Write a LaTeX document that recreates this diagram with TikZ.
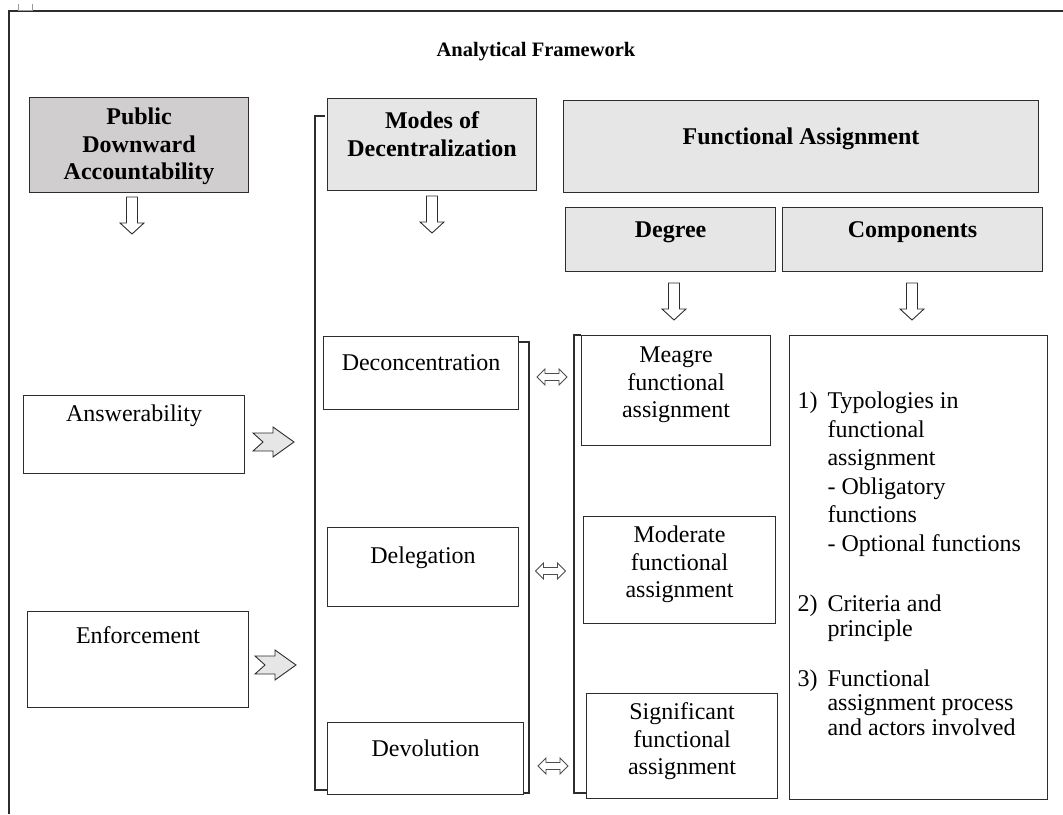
\documentclass[tikz,border=0pt]{standalone}
\usepackage{fontspec}
\setmainfont{Liberation Serif}
\usepackage{tikz}
\usetikzlibrary{calc}
\definecolor{hdrdark}{RGB}{208,206,206}
\definecolor{hdrlight}{RGB}{231,230,230}
\definecolor{edge}{RGB}{45,45,45}
\tikzset{
	box/.style={draw=edge, line width=1.1pt, inner sep=0pt, anchor=north west},
	hdr/.style={box, fill=hdrlight, font=\fontsize{24}{27.5}\selectfont\bfseries},
	blockarrow/.style={draw=edge, line width=0.9pt, fill=white, line join=miter},
	notcharrow/.style={draw=edge, line width=0.9pt, fill=hdrlight, line join=miter},
	bracket/.style={draw=edge, line width=1.1pt}
}
\def\cell#1#2#3#4{\parbox[c][#2pt][t]{#1pt}{\centering\rule{0pt}{#3pt}#4}}
\def\dnarrow(#1,#2){\draw[blockarrow] (#1-5.5,#2) -- ++(11,0) -- ++(0,26) -- ++(6.5,0) -- ++(-12,11) -- ++(-12,-11) -- ++(6.5,0) -- cycle;}
\def\rtarrow(#1,#2){\draw[notcharrow] (#1,#2-9) -- ++(20,0) -- ++(0,-6) -- ++(21,15) -- ++(-21,15) -- ++(0,-6) -- ++(-20,0) -- ++(10,-9) -- cycle;}
\def\dblarrow(#1,#2){\draw[blockarrow, draw=edge!85] (#1-15,#2) -- ++(8,-8) -- ++(0,4.5) -- ++(14,0) -- ++(0,-4.5) -- ++(8,8) -- ++(-8,8) -- ++(0,-4.5) -- ++(-14,0) -- ++(0,4.5) -- cycle;}

\begin{document}
\begin{tikzpicture}[x=1pt, y=-1pt, font=\fontsize{24}{27.5}\selectfont]
			%%%%% START %%%%%
			\useasboundingbox (0,0) rectangle (1063,814);
			
			% frame
			\draw[line width=1.1pt, edge] (9,814) -- (9,11) -- (1063,11);
			\draw[line width=0.8pt, black!40] (18,4) -- (18,10) -- (32,10) -- (32,4);
			
			\node[anchor=base, font=\fontsize{20.5}{24}\selectfont\bfseries] (title) at (536,56) {Analytical Framework};
			
			% headers
			\node[hdr, fill=hdrdark] (pda) at (29,97) {\cell{219}{95}{27}{Public\\Downward\\Accountability}};
			\node[hdr] (modes) at (327,98) {\cell{209}{92}{30}{Modes of\\Decentralization}};
			\node[hdr] (fa) at (563,100) {\cell{475}{92}{44}{Functional Assignment}};
			\node[hdr] (degree) at (565,207) {\cell{210}{64}{30}{Degree}};
			\node[hdr] (comp) at (782,207) {\cell{260}{64}{30}{Components}};
			
			\dnarrow(132,197)
			\dnarrow(432,196)
			\dnarrow(674,283)
			\dnarrow(912,283)
			
			% accountability
			\node[box] (answ) at (23,395) {\cell{221}{78}{26}{Answerability}};
			\node[box] (enf) at (27,611) {\cell{221}{96}{32}{Enforcement}};
			
			\rtarrow(253,442)
			\rtarrow(255,665)
			
			% modes
			\draw[bracket] (325,116) -- (315,116) -- (315,790) -- (327,790);
			\node[box] (decon) at (323,336) {\cell{195}{73}{34}{Deconcentration}};
			\node[box] (deleg) at (327,527) {\cell{191}{79}{36}{Delegation}};
			\node[box] (devol) at (327,722) {\cell{196}{72}{34}{Devolution}};
			\draw[bracket] (518,342) -- (529,342) -- (529,793) -- (523,793);
			
			\dblarrow(552,377)
			\dblarrow(550.5,571)
			\dblarrow(553,766)
			
			% degree
			\draw[bracket] (581,335) -- (574,335) -- (574,793) -- (586,793);
			\node[box] (meagre) at (581,335) {\cell{189}{110}{27}{Meagre\\functional\\assignment}};
			\node[box] (moder) at (583,516) {\cell{192}{107}{26}{Moderate\\functional\\assignment}};
			\node[box] (signif) at (586,693) {\cell{191}{105}{26}{Significant\\functional\\assignment}};
			
			% components
			\node[box] (list) at (789,335) {\parbox[c][464pt][t]{258pt}{\raggedright\leftskip=8pt
				\rule{0pt}{73pt}\makebox[30pt][l]{1)}Typologies in\\[1pt]
				\hspace*{30pt}functional\\[1pt]
				\hspace*{30pt}assignment\\[1pt]
				\hspace*{30pt}- Obligatory\\[1pt]
				\hspace*{30pt}functions\\[1pt]
				\hspace*{30pt}- Optional functions\\[32.5pt]
				\makebox[30pt][l]{2)}Criteria and\\[-2.5pt]
				\hspace*{30pt}principle\\[22.5pt]
				\makebox[30pt][l]{3)}Functional\\[-3.5pt]
				\hspace*{30pt}assignment process\\[-2.5pt]
				\hspace*{30pt}and actors involved}};
			
			%%%%% END %%%%%
\end{tikzpicture}
\end{document}
